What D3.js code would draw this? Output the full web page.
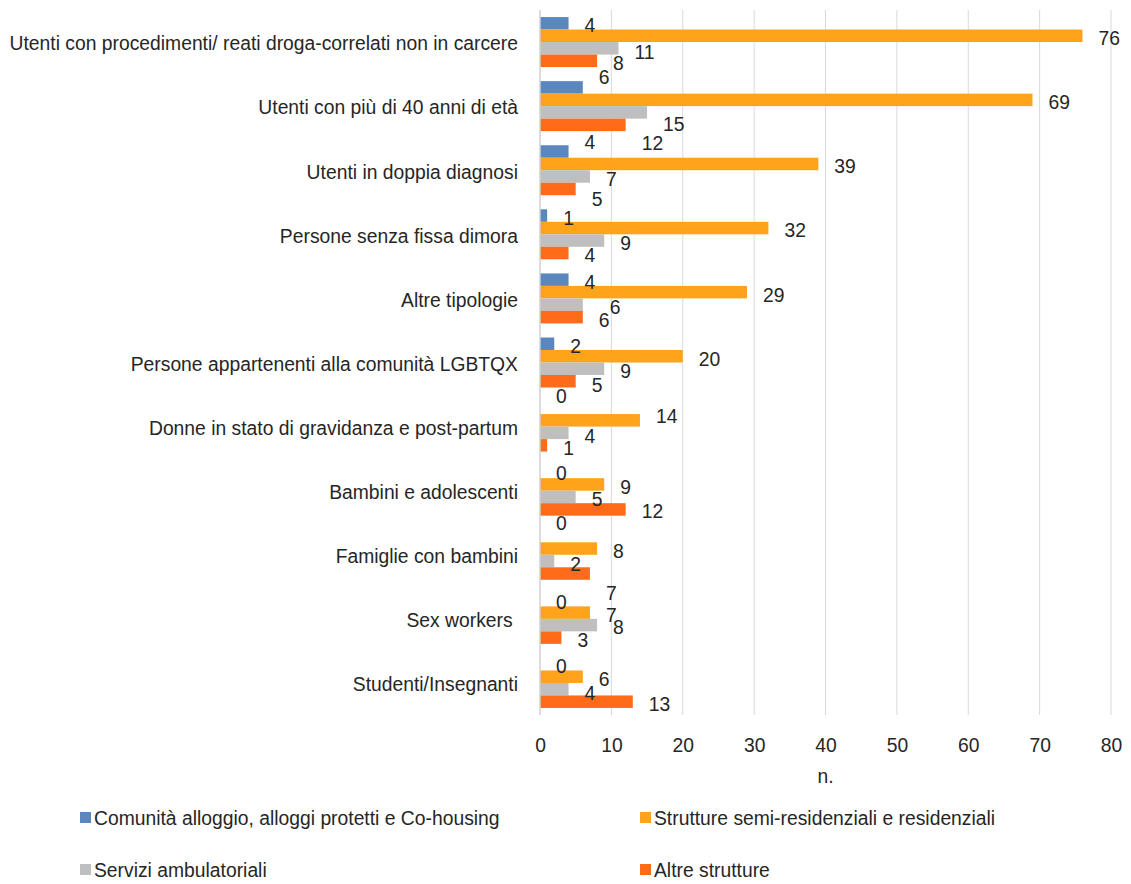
<!DOCTYPE html>
<html><head><meta charset="utf-8">
<script src="https://cdn.jsdelivr.net/npm/d3@7"></script>
<style>
body{margin:0;background:#fff}
text{font-family:"Liberation Sans",Arial,sans-serif;fill:#262626}
</style></head>
<body><svg id="c" width="1131" height="884"></svg>
<script>
const categories = [
  "Utenti con procedimenti/ reati droga-correlati non in carcere",
  "Utenti con più di 40 anni di età",
  "Utenti in doppia diagnosi",
  "Persone senza fissa dimora",
  "Altre tipologie",
  "Persone appartenenti alla comunità LGBTQX",
  "Donne in stato di gravidanza e post-partum",
  "Bambini e adolescenti",
  "Famiglie con bambini",
  "Sex workers ",
  "Studenti/Insegnanti"
];
const seriesNames = [
  "Comunità alloggio, alloggi protetti e Co-housing",
  "Strutture semi-residenziali e residenziali",
  "Servizi ambulatoriali",
  "Altre strutture"
];
const comunitaAlloggio = [4, 6, 4, 1, 4, 2, 0, 0, 0, 0, 0];
const semiResidenziali = [76, 69, 39, 32, 29, 20, 14, 9, 8, 7, 6];
const ambulatoriali   = [11, 15, 7, 9, 6, 9, 4, 5, 2, 8, 4];
const altreStrutture  = [8, 12, 5, 4, 6, 5, 1, 12, 7, 3, 13];
const xTicks = [0, 10, 20, 30, 40, 50, 60, 70, 80];
const axisTitle = "n.";

// layout (not data): label nudges (px) reproducing the original label placement
const labelNudgeY = [
  [-1, -13, -12, 0, 0, 0, -14, -1, -15, 0, -1],
  [0, 0, 0, 0, 0, 0, -7, 0, 0, 0, 0],
  [1, 9, 0, 0, 0, 0, 1, 0, 1, 0, 1],
  [0, 16, 8, 0, 0, 1, 0, -1, 17, 0, 0]
];
const labelNudgeX = [
  [0,0,0,0,0,0,0,0,0,0,0],
  [0,0,0,0,0,0,0,0,0,0,0],
  [0,0,0,0,11,0,0,0,0,0,0],
  [0,0,0,0,0,0,0,0,0,0,0]
];
const colors = ["#5B87BF", "#FFA31A", "#BFBFBF", "#FF6B18"];
const FS = 21, SX = 0.92; // narrow font emulation

const seriesValues = [comunitaAlloggio, semiResidenziali, ambulatoriali, altreStrutture];
const svg = d3.select("#c");
const plotTop = 10, plotBottom = 715, plotLeft = 540, plotRight = 1111;

function narrowText(sel, xf, yf) {
  sel.attr("x", 0).attr("y", 0)
    .attr("transform", (d, i) => `translate(${xf(d, i)},${yf(d, i)}) scale(${SX},1)`)
    .attr("font-size", FS).attr("dy", "0.35em");
  return sel;
}

const x = d3.scaleLinear().domain([0, 80]).range([plotLeft, plotRight]);
const y0 = d3.scaleBand().domain(categories).range([plotTop, plotBottom]).paddingInner(0.22).paddingOuter(0.11);
const y1 = d3.scaleBand().domain(d3.range(seriesNames.length)).range([0, y0.bandwidth()]);

// gridlines
svg.append("g").selectAll("line").data(xTicks.filter(d => d > 0)).join("line")
  .attr("x1", d => x(d)).attr("x2", d => x(d))
  .attr("y1", plotTop).attr("y2", plotBottom)
  .attr("stroke", "#d9d9d9").attr("stroke-width", 1);

// bars
const rows = [];
categories.forEach((c, ci) => seriesValues.forEach((arr, si) => rows.push({c, ci, si, v: arr[ci]})));

svg.append("g").selectAll("rect").data(rows.filter(d => d.v > 0)).join("rect")
  .attr("x", x(0))
  .attr("y", d => y0(d.c) + y1(d.si))
  .attr("width", d => x(d.v) - x(0))
  .attr("height", y1.bandwidth())
  .attr("fill", d => colors[d.si]);

// axis line at zero
svg.append("line").attr("x1", x(0)).attr("x2", x(0)).attr("y1", plotTop).attr("y2", plotBottom)
  .attr("stroke", "#d0d0d0").attr("stroke-width", 1.5);

// data labels
narrowText(svg.append("g").selectAll("text").data(rows).join("text"),
  d => x(d.v) + 16 + labelNudgeX[d.si][d.ci],
  d => y0(d.c) + y1(d.si) + y1.bandwidth() / 2 + 2 + labelNudgeY[d.si][d.ci])
  .text(d => d.v);

// category labels
narrowText(svg.append("g").selectAll("text").data(categories).join("text"),
  d => 518, d => y0(d) + y0.bandwidth() / 2 + 1)
  .attr("text-anchor", "end")
  .style("white-space", "pre")
  .text(d => d);

// x axis tick labels
const xAxis = d3.axisBottom(x).tickValues(xTicks).tickSize(0).tickPadding(0);
const ax = svg.append("g").attr("transform", `translate(0, ${plotBottom})`).call(xAxis);
ax.select(".domain").remove();
ax.selectAll(".tick text").attr("font-family", null).attr("fill", "#262626")
  .attr("font-size", FS).attr("y", 0).attr("dy", "0.35em")
  .attr("transform", `translate(0,30) scale(${SX},1)`);

// axis title
narrowText(svg.append("g").selectAll("text").data([axisTitle]).join("text"),
  d => (plotLeft + plotRight) / 2, d => 776)
  .attr("text-anchor", "middle").text(d => d);

// legend
const legendPos = [[80, 818], [640, 818], [80, 870], [640, 870]];
const lg = svg.append("g").selectAll("g").data(seriesNames).join("g")
  .attr("transform", (d, i) => `translate(${legendPos[i][0]}, ${legendPos[i][1]})`);
lg.append("rect").attr("x", 0).attr("y", -6).attr("width", 11).attr("height", 11)
  .attr("fill", (d, i) => colors[i]);
narrowText(lg.append("text"), d => 14, d => 0).text(d => d);
</script>
</body></html>
